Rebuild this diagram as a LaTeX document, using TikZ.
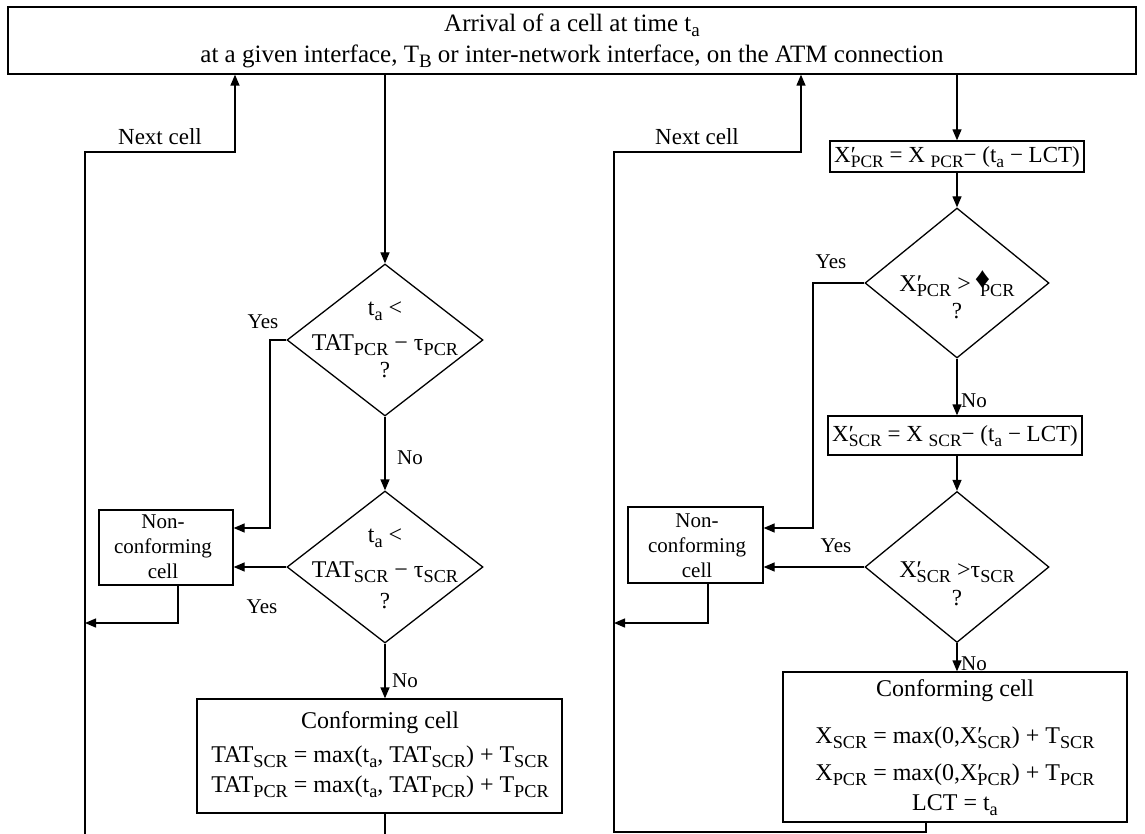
\documentclass[tikz,border=0pt]{standalone}
\usepackage{fontspec}
\usepackage{graphicx}
\setmainfont{Liberation Serif}
\usetikzlibrary{arrows.meta,shapes.geometric}
\newcommand{\sbs}[1]{\raisebox{-0.22em}{\scalebox{0.76}{#1}}}
\newcommand{\pr}{\rlap{′}}
\begin{document}
\begin{tikzpicture}[x=1pt,y=-1pt,line width=1.3pt,
  font=\fontsize{24}{28}\selectfont,
  arr/.style={-{Triangle[length=11pt,width=9pt]}},
  box/.style={draw,rectangle,inner sep=0pt},
  dia/.style={draw,diamond,inner sep=0pt},
  txt/.style={inner sep=0pt,text height=16pt,text depth=5pt},
  small/.style={font=\fontsize{21}{25}\selectfont},
  mid/.style={font=\fontsize{23}{27}\selectfont}]
\useasboundingbox (0,0) rectangle (1145,834);

% nodes
\node[box,minimum width=1128pt,minimum height=67pt,align=center,
  font=\fontsize{25}{31}\selectfont] (top) at (572,40.5)
  {Arrival of a cell at time t\sbs{a}\\at a given interface, T\sbs{B} or inter-network interface, on the ATM connection};
\node[dia,minimum width=196pt,minimum height=152pt] (d1) at (385,340) {};
\node[dia,minimum width=196pt,minimum height=152pt] (d2) at (385,567) {};
\node[box,minimum width=134pt,minimum height=75pt] (nc1) at (166,547.5) {};
\node[box,minimum width=365pt,minimum height=114pt] (c1) at (379.5,756) {};
\node[box,minimum width=254pt,minimum height=31pt] (b1) at (957,156.5) {};
\node[dia,minimum width=184pt,minimum height=150pt] (d3) at (957,283) {};
\node[box,minimum width=254pt,minimum height=39pt] (b2) at (955,435.5) {};
\node[dia,minimum width=184pt,minimum height=151pt] (d4) at (957,567) {};
\node[box,minimum width=135pt,minimum height=76pt] (nc2) at (695.5,545) {};
\node[box,minimum width=344pt,minimum height=150pt] (c2) at (955,747) {};

% texts
\node[txt] (t1a) at (385,310) {t\sbs{a} <};
\node[txt] (t1b) at (385,345) {TAT\sbs{PCR} − τ\sbs{PCR}};
\node[inner sep=0pt,mid] (t1c) at (385,370) {?};
\node[txt] (t2a) at (385,537) {t\sbs{a} <};
\node[txt] (t2b) at (385,572) {TAT\sbs{SCR} − τ\sbs{SCR}};
\node[inner sep=0pt,mid] (t2c) at (385,601) {?};
\node[txt,small] (n1a) at (163,523) {Non-};
\node[txt,small] (n1b) at (163,548) {conforming};
\node[txt,small] (n1c) at (163,573) {cell};
\node[txt] (c1a) at (380,723) {Conforming cell};
\node[txt] (c1b) at (380,757) {TAT\sbs{SCR} = max(t\sbs{a}, TAT\sbs{SCR}) + T\sbs{SCR}};
\node[txt] (c1c) at (380,787) {TAT\sbs{PCR} = max(t\sbs{a}, TAT\sbs{PCR}) + T\sbs{PCR}};
\node[txt,mid] (b1t) at (957,157) {X\pr\sbs{PCR} = X \sbs{PCR}− (t\sbs{a} − LCT)};
\node[txt] (t3a) at (957,286) {X\pr\sbs{PCR} >\,\raisebox{0.12em}{\scalebox{1.25}{♦}}\kern-0.42em\sbs{PCR}};
\node[inner sep=0pt,mid] (t3b) at (957,311) {?};
\node[txt,mid] (b2t) at (955,436) {X\pr\sbs{SCR} = X \sbs{SCR}− (t\sbs{a} − LCT)};
\node[txt] (t4a) at (957,572) {X\pr\sbs{SCR} >τ\sbs{SCR}};
\node[inner sep=0pt,mid] (t4b) at (957,598) {?};
\node[txt,small] (n2a) at (697,522) {Non-};
\node[txt,small] (n2b) at (697,547) {conforming};
\node[txt,small] (n2c) at (697,572) {cell};
\node[txt] (c2a) at (955,691) {Conforming cell};
\node[txt] (c2b) at (955,738) {X\sbs{SCR} = max(0,X\pr\sbs{SCR}) + T\sbs{SCR}};
\node[txt] (c2c) at (955,775) {X\sbs{PCR} = max(0,X\pr\sbs{PCR}) + T\sbs{PCR}};
\node[txt] (c2d) at (955,805) {LCT = t\sbs{a}};

% labels
\node[txt,mid] (nx1) at (160,139) {Next cell};
\node[txt,mid] (nx2) at (697,139) {Next cell};
\node[txt,small] (y1l) at (263,323) {Yes};
\node[txt,small] (y2l) at (262,608) {Yes};
\node[txt,small] (y3l) at (831,263) {Yes};
\node[txt,small] (y4l) at (836,547) {Yes};
\node[txt,small] (no1) at (410,459) {No};
\node[txt,small] (no2) at (405,682) {No};
\node[txt,small] (no3) at (974,402) {No};
\node[txt,small] (no4) at (974,665) {No};

% coordinates
\coordinate (L0) at (85,834);
\coordinate (L1) at (235,152);
\coordinate (L2) at (385,834);
\coordinate (Y1) at (270,528);
\coordinate (R1) at (178,623);
\coordinate (Q0) at (926,832);
\coordinate (Q1) at (614,832);
\coordinate (Q2) at (801,152);
\coordinate (Y3) at (813,528);
\coordinate (R2) at (708,623);

% left connectors
\draw[arr] (L0) |- (L1) -- (top.south -| L1);
\draw[arr] (top.south -| d1.north) -- (d1.north);
\draw[arr] (d1.west) -| (Y1) -- (nc1.east |- Y1);
\draw[arr] (d1.south) -- (d2.north);
\draw[arr] (d2.west) -- (nc1.east |- d2.west);
\draw[arr] (nc1.south -| R1) -- (R1) -- (L0 |- R1);
\draw[arr] (d2.south) -- (c1.north -| d2.south);
\draw (c1.south -| L2) -- (L2);

% right connectors
\draw[arr] (c2.south -| Q0) -- (Q0) -- (Q1) |- (Q2) -- (top.south -| Q2);
\draw[arr] (top.south -| d3.north) -- (b1.north -| d3.north);
\draw[arr] (b1.south -| d3.north) -- (d3.north);
\draw[arr] (d3.west) -| (Y3) -- (nc2.east |- Y3);
\draw[arr] (d3.south) -- (b2.north -| d3.south);
\draw[arr] (b2.south -| d4.north) -- (d4.north);
\draw[arr] (d4.west) -- (nc2.east |- d4.west);
\draw[arr] (nc2.south -| R2) -- (R2) -- (Q1 |- R2);
\draw[arr] (d4.south) -- (c2.north -| d4.south);
\end{tikzpicture}
\end{document}
